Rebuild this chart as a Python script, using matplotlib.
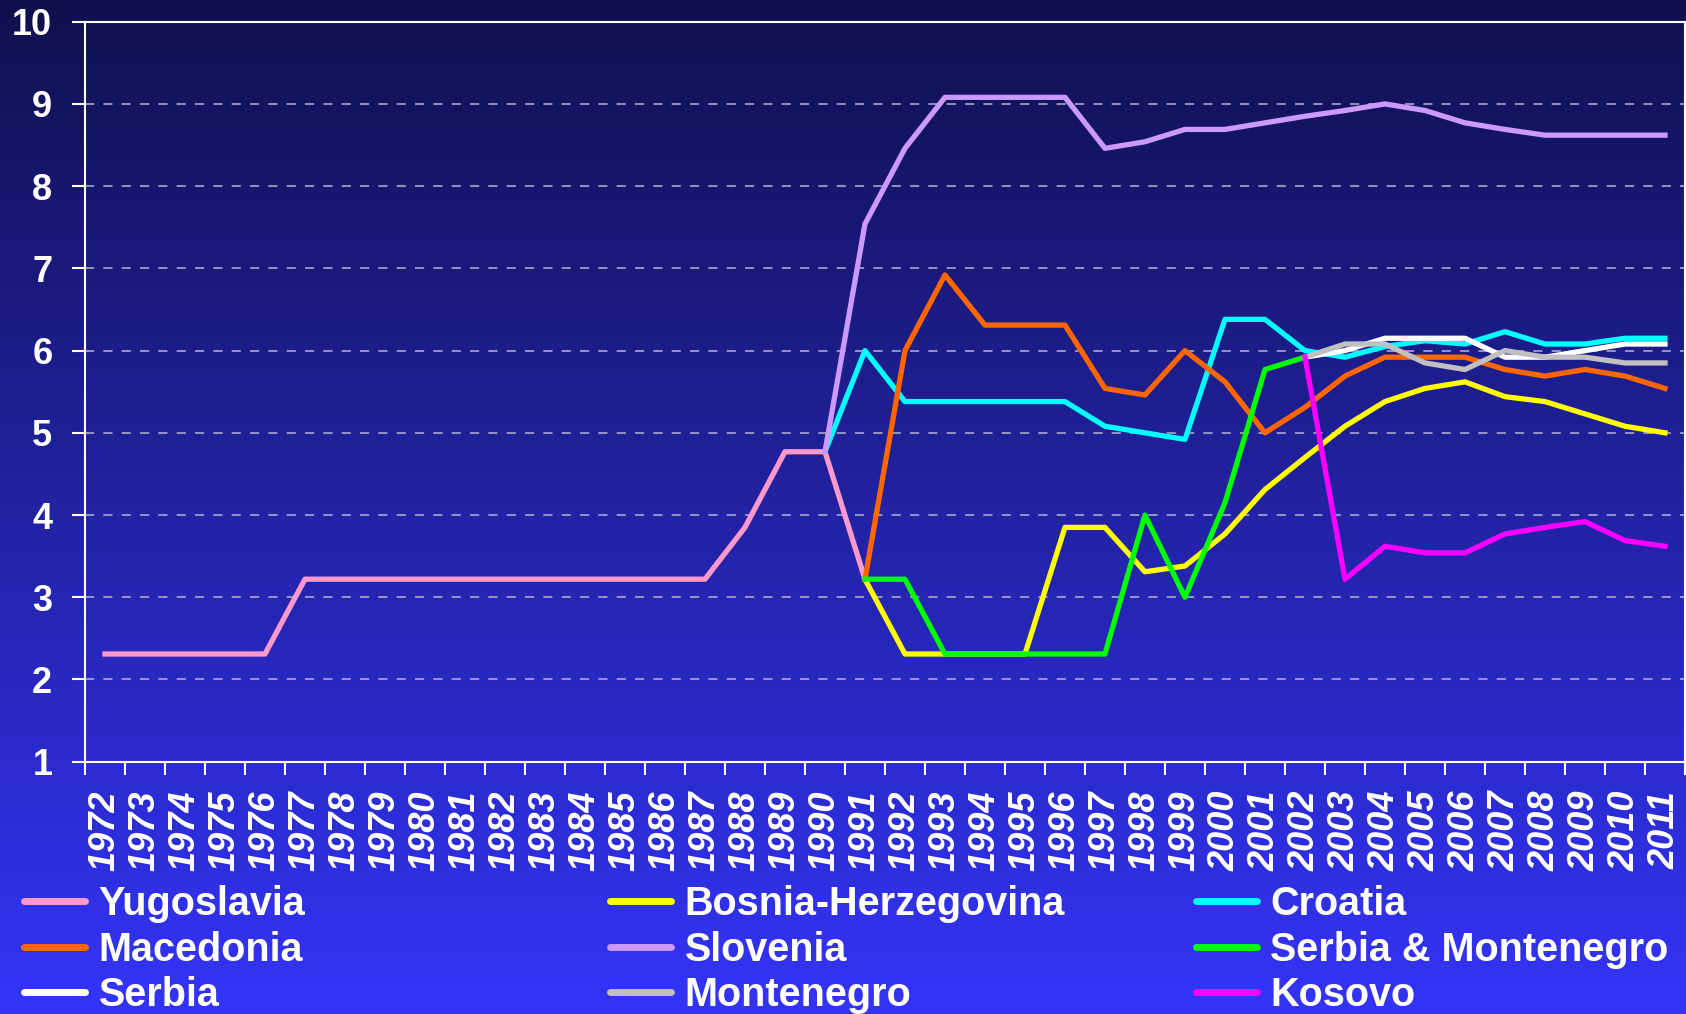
import numpy as np
import matplotlib
matplotlib.use("Agg")
import matplotlib.pyplot as plt
from matplotlib.lines import Line2D

plt.rcParams['font.family'] = ['Liberation Sans', 'DejaVu Sans']

nan = np.nan
years = list(range(1972, 2012))

yugoslavia = [2.31]*5 + [3.22]*11 + [3.85, 4.77, 4.77, 3.22] + [nan]*20
bosnia = [nan]*19 + [3.22, 2.31, 2.31, 2.31, 2.31, 3.85, 3.85, 3.31, 3.38, 3.77,
                     4.31, 4.70, 5.08, 5.38, 5.54, 5.62, 5.44, 5.38, 5.23, 5.08, 5.00]
croatia = [nan]*18 + [4.77, 6.00, 5.38, 5.38, 5.38, 5.38, 5.38, 5.08, 5.00, 4.92, 6.38,
                      6.38, 6.00, 5.92, 6.05, 6.12, 6.08, 6.23, 6.08, 6.08, 6.15, 6.15]
macedonia = [nan]*19 + [3.22, 6.00, 6.92, 6.31, 6.31, 6.31, 5.54, 5.46, 6.00, 5.62,
                        5.00, 5.31, 5.69, 5.92, 5.92, 5.92, 5.77, 5.69, 5.77, 5.69, 5.54]
slovenia = [nan]*18 + [4.77, 7.54, 8.46, 9.08, 9.08, 9.08, 9.08, 8.46, 8.54, 8.69, 8.69,
                       8.77, 8.85, 8.92, 9.00, 8.92, 8.77, 8.69, 8.62, 8.62, 8.62, 8.62]
serb_mont = [nan]*19 + [3.22, 3.22, 2.31, 2.31, 2.31, 2.31, 2.31, 4.00, 3.00, 4.15,
                        5.77, 5.92] + [nan]*9
serbia = [nan]*30 + [5.92, 6.00, 6.15, 6.15, 6.15, 5.92, 5.92, 6.00, 6.08, 6.08]
montenegro = [nan]*30 + [5.92, 6.08, 6.08, 5.85, 5.77, 6.00, 5.92, 5.92, 5.85, 5.85]
kosovo = [nan]*30 + [5.92, 3.22, 3.62, 3.54, 3.54, 3.77, 3.85, 3.92, 3.69, 3.62]

names = ["Yugoslavia", "Bosnia-Herzegovina", "Croatia", "Macedonia", "Slovenia",
         "Serbia & Montenegro", "Serbia", "Montenegro", "Kosovo"]
series = [yugoslavia, bosnia, croatia, macedonia, slovenia, serb_mont, serbia, montenegro, kosovo]
colors = ["#FF99CC", "#FFFF00", "#00FFFF", "#FF6600", "#CC99FF",
          "#00FF00", "#FFFFFF", "#C0C0C0", "#FF00FF"]

fig = plt.figure(figsize=(16.86, 10.14), dpi=100)

# background gradient
bg = fig.add_axes([0, 0, 1, 1], zorder=-10)
t = np.linspace(0, 1, 256)[:, None]
top = np.array([16, 16, 78]) / 255
bot = np.array([52, 52, 248]) / 255
grad = top[None, None, :] * (1 - t[:, :, None]) + bot[None, None, :] * t[:, :, None]
bg.imshow(grad, aspect='auto', extent=[0, 1, 0, 1])
bg.axis('off')

ax = fig.add_axes([0.0504, 0.2488, 0.949, 0.7298])
ax.set_facecolor('none')

x = np.arange(len(years))
for name, vals, c in zip(names, series, colors):
    ax.plot(x, vals, color=c, lw=3.8, label=name, solid_joinstyle='round')

ax.set_xlim(-0.5, len(years) - 0.5)
ax.set_ylim(1, 10)
ax.set_yticks(range(1, 11))
ax.set_xticks(np.arange(-0.5, len(years), 1.0))
ax.set_xticklabels([])
ax.set_xticks(x, minor=True)
ax.set_xticklabels([str(y) for y in years], minor=True, rotation=90,
                   fontsize=26, fontweight='bold', fontstyle='italic', color='white')
ax.tick_params(axis='x', which='minor', length=0, pad=21)
ax.tick_params(axis='x', which='major', length=9, width=1.5, color='white', direction='out')
ax.tick_params(axis='y', length=9.5, width=1.5, color='white', pad=14,
               labelsize=26, labelcolor='white')
for lab in ax.get_yticklabels():
    lab.set_fontweight('bold')

for s in ax.spines.values():
    s.set_color('white')
    s.set_linewidth(1.5)

for yv in range(2, 10):
    ax.axhline(yv, color='#B4B4D4', lw=1.1, ls=(0, (6, 6)), zorder=0)

handles = {n: Line2D([], [], color=c, lw=5, solid_capstyle='round') for n, c in zip(names, colors)}
cols = [["Yugoslavia", "Macedonia", "Serbia"],
        ["Bosnia-Herzegovina", "Slovenia", "Montenegro"],
        ["Croatia", "Serbia & Montenegro", "Kosovo"]]
xpos = [24 / 1686, 610 / 1686, 1196 / 1686]
for col, xp in zip(cols, xpos):
    fig.legend([handles[n] for n in col], col, loc='upper left',
               bbox_to_anchor=(xp, 0.127), frameon=False, borderpad=0,
               borderaxespad=0, handlelength=1.55, handletextpad=0.33,
               labelspacing=0.19, prop={'size': 28.5, 'weight': 'bold'},
               labelcolor='white')

fig.savefig("out.png", dpi=100)
